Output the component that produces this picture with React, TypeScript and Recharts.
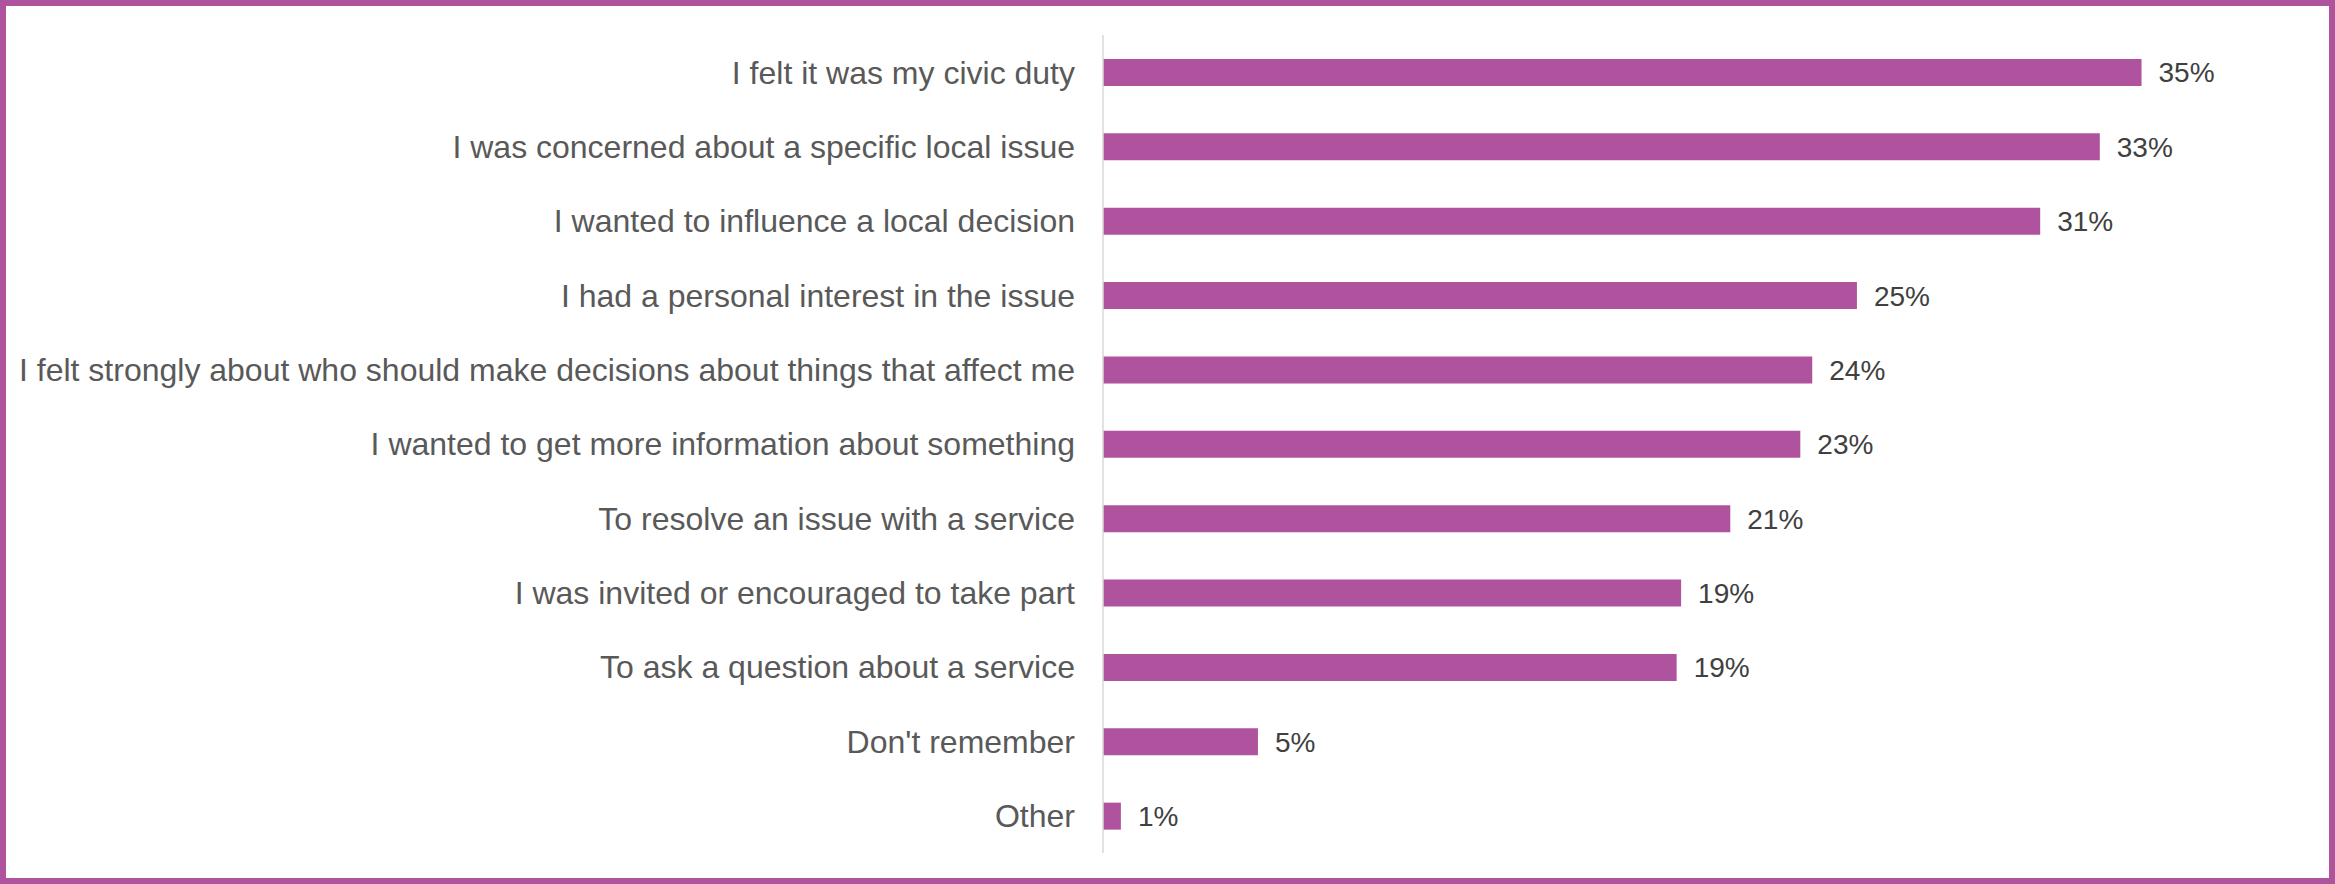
import React from 'react';
import { BarChart, Bar, XAxis, YAxis, LabelList } from 'recharts';

const reasons = [
  'I felt it was my civic duty',
  'I was concerned about a specific local issue',
  'I wanted to influence a local decision',
  'I had a personal interest in the issue',
  'I felt strongly about who should make decisions about things that affect me',
  'I wanted to get more information about something',
  'To resolve an issue with a service',
  'I was invited or encouraged to take part',
  'To ask a question about a service',
  "Don't remember",
  'Other',
];

const shares = [34.85, 33.45, 31.45, 25.3, 23.8, 23.4, 21.05, 19.4, 19.25, 5.2, 0.6];

const data = reasons.map((reason, i) => ({ reason, share: shares[i] }));

const PURPLE = '#b0539f';

export default function App() {
  return (
    <div
      style={{
        position: 'absolute',
        top: 0,
        left: 0,
        width: 2335,
        height: 884,
        boxSizing: 'border-box',
        border: `6px solid ${PURPLE}`,
        background: '#ffffff',
        fontFamily: '"Liberation Sans", Arial, sans-serif',
      }}
    >
      <div style={{ position: 'absolute', top: -6, left: -6 }}>
        <BarChart
          layout="vertical"
          width={2335}
          height={884}
          data={data}
          margin={{ top: 35, right: 40, bottom: 31, left: 0 }}
          barSize={27}
        >
          <XAxis type="number" domain={[0, 40]} hide />
          <YAxis
            type="category"
            dataKey="reason"
            width={1103}
            axisLine={{ stroke: '#d9d9d9', strokeWidth: 1.5 }}
            tickLine={false}
            tickSize={0}
            tickMargin={28}
            interval={0}
            tick={{ fill: '#595959', fontSize: 32 }}
          />
          <Bar dataKey="share" fill={PURPLE} isAnimationActive={false}>
            <LabelList
              dataKey="share"
              position="right"
              offset={17}
              fill="#404040"
              fontSize={28}
              formatter={(v: number) => `${Math.round(v)}%`}
            />
          </Bar>
        </BarChart>
      </div>
    </div>
  );
}
